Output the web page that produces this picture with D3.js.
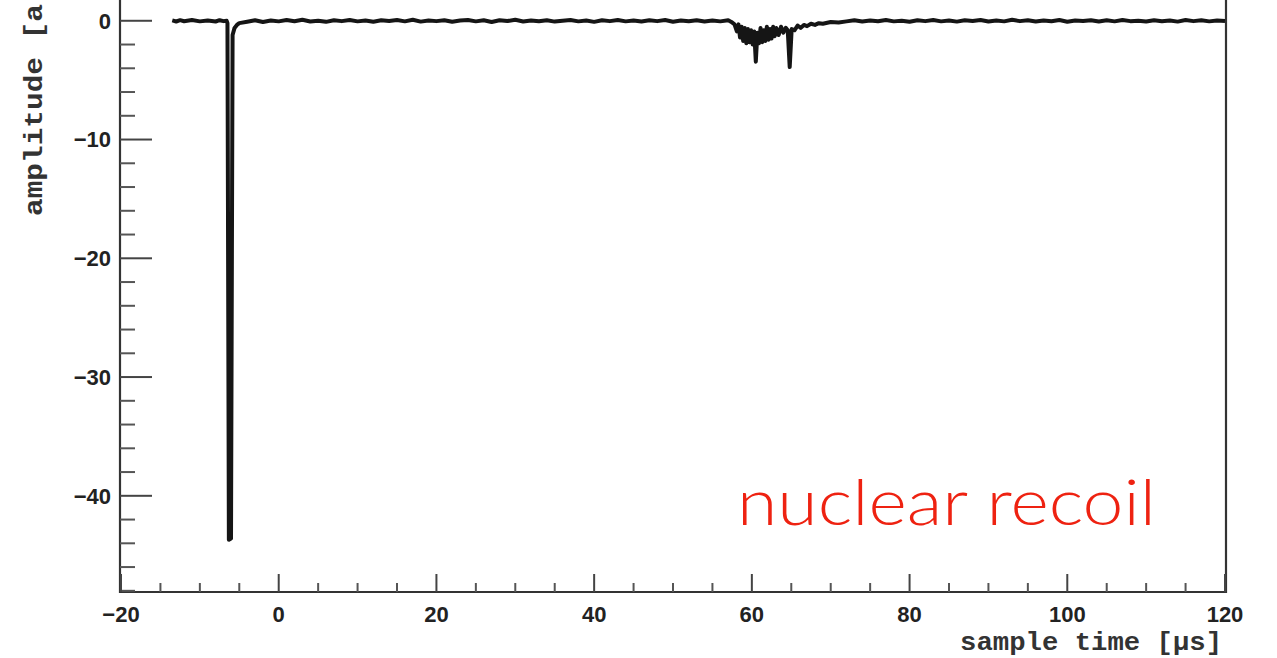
<!DOCTYPE html>
<html>
<head>
<meta charset="utf-8">
<script src="https://cdn.jsdelivr.net/npm/d3@7"></script>
<style>
  html, body { margin: 0; padding: 0; background: #fff; }
  svg { display: block; }
</style>
</head>
<body>
<div id="chart"></div>
<script>
// waveform, sample time in µs, amplitude in a.u.
const preTime  = [-13.5, -13, -12.5, -12, -11, -10, -9, -8, -7.5, -7, -6.6];
const preAmp   = [0.03, -0.06, 0.05, -0.04, 0.06, -0.05, 0.03, -0.06, 0.05, -0.03, 0.0];

const spikeTime = [-6.5, -6.32, -6.05, -5.85, -5.6, -5.3, -5];
const spikeAmp  = [-0.2, -43.7, -43.6, -1.2, -0.6, -0.35, -0.2];

const base1Time = d3.range(-4, 58);   // 1 µs sampling grid
const base1Amp = [
  -0.08, 0.05, -0.1, 0.03, -0.05, 0.06, -0.04, 0.08, -0.06, 0.01,
  -0.09, 0.05, -0.03, 0.07, -0.05, 0.03, -0.08, 0.04, -0.01, 0.06,
  -0.05, 0.09, -0.07, 0.03, -0.03, 0.05, -0.08, 0.02, 0.06, -0.05,
  0.04, -0.1, 0.05, -0.02, 0.08, -0.06, 0.03, -0.04, 0.05, -0.07,
  0.01, 0.06, -0.05, 0.03, -0.09, 0.05, -0.03, 0.07, -0.05, 0.02,
  -0.06, 0.05, -0.03, 0.06, -0.08, 0.03, -0.04, 0.05, -0.06, 0.02,
  -0.05, 0.04
];

const recoilTime = [57.4, 57.8, 58.1, 58.3, 58.5, 58.7, 58.9, 59.1, 59.3, 59.5,
  59.7, 59.9, 60.1, 60.3, 60.5, 60.7, 60.9, 61.1, 61.3, 61.5,
  61.7, 61.9, 62.1, 62.3, 62.5, 62.7, 62.9, 63.1, 63.4, 63.7,
  64.0, 64.3, 64.55, 64.8, 65.05, 65.4, 65.8, 66.2, 66.6, 67,
  67.5, 68, 68.5, 69, 70, 71, 72];
const recoilAmp = [-0.1, -0.3, -0.9, -0.3, -1.4, -0.5, -1.7, -0.6, -1.9, -0.7,
  -1.8, -0.8, -2.0, -0.9, -3.45, -1.0, -1.9, -0.6, -1.8, -0.8,
  -1.7, -0.5, -1.6, -0.7, -1.5, -0.5, -1.3, -0.6, -1.2, -0.5,
  -1.0, -0.6, -0.8, -3.9, -0.7, -0.8, -0.4, -0.6, -0.35, -0.45,
  -0.25, -0.35, -0.2, -0.25, -0.1, -0.15, -0.05];

const base2Time = d3.range(73, 121);
const base2Amp = [
  0.05, -0.06, 0.03, -0.04, 0.07, -0.05, 0.01, -0.08, 0.05, -0.03,
  0.06, -0.05, 0.03, -0.07, 0.04, -0.01, 0.06, -0.06, 0.02, -0.05,
  0.08, -0.03, 0.05, -0.06, 0.03, -0.04, 0.06, -0.08, 0.03, -0.02,
  0.05, -0.06, 0.04, -0.05, 0.07, -0.03, 0.01, -0.06, 0.05, -0.04,
  0.03, -0.07, 0.06, -0.03, 0.04, -0.05, 0.02, -0.01
];

const xTicks = [-20, 0, 20, 40, 60, 80, 100, 120];
const yTicks = [0, -10, -20, -30, -40];

(function() {
  const W = 1277, H = 658;
  const left = 120, right = 1226, bottom = 592;

  const svg = d3.select("#chart").append("svg")
      .attr("width", W)
      .attr("height", H);

  const x = d3.scaleLinear().domain([-20, 120]).range([121, 1225]);
  const y = d3.scaleLinear().domain([-48.1, 1.8]).range([bottom, -0.6]);

  // join the segments into one trace
  const trace = [];
  [[preTime, preAmp], [spikeTime, spikeAmp], [base1Time, base1Amp],
   [recoilTime, recoilAmp], [base2Time, base2Amp]].forEach(([t, a]) => {
    t.forEach((v, i) => trace.push({t: v, a: a[i]}));
  });

  // frame (top edge sits above the visible area)
  svg.append("path")
    .attr("d", `M${left},-20 V${bottom} H${right} V-20`)
    .attr("fill", "none")
    .attr("stroke", "#333")
    .attr("stroke-width", 2.2);

  // y ticks point inward, minor every 2
  const yMinor = d3.range(-48, 1, 2).filter(d => d % 10 !== 0);
  svg.append("g").selectAll("line")
    .data(yTicks).join("line")
      .attr("x1", left).attr("x2", left + 32)
      .attr("y1", d => y(d)).attr("y2", d => y(d))
      .attr("stroke", "#444").attr("stroke-width", 2);
  svg.append("g").selectAll("line")
    .data(yMinor).join("line")
      .attr("x1", left).attr("x2", left + 15)
      .attr("y1", d => y(d)).attr("y2", d => y(d))
      .attr("stroke", "#555").attr("stroke-width", 2);

  // x ticks point up, minor every 5
  const xMinor = d3.range(-15, 120, 5).filter(d => d % 20 !== 0);
  svg.append("g").selectAll("line")
    .data(xTicks).join("line")
      .attr("x1", d => x(d)).attr("x2", d => x(d))
      .attr("y1", bottom).attr("y2", bottom - 18)
      .attr("stroke", "#444").attr("stroke-width", 2);
  svg.append("g").selectAll("line")
    .data(xMinor).join("line")
      .attr("x1", d => x(d)).attr("x2", d => x(d))
      .attr("y1", bottom).attr("y2", bottom - 9)
      .attr("stroke", "#555").attr("stroke-width", 2);

  const fmt = d3.format("d");
  const tickFont = "bold 22px 'Liberation Sans', Arial, sans-serif";

  svg.append("g").selectAll("text")
    .data(yTicks).join("text")
      .attr("x", 111)
      .attr("y", d => y(d))
      .attr("dy", "0.36em")
      .attr("text-anchor", "end")
      .style("font", tickFont)
      .attr("fill", "#222")
      .text(d => fmt(d));

  svg.append("g").selectAll("text")
    .data(xTicks).join("text")
      .attr("x", d => x(d))
      .attr("y", 622)
      .attr("text-anchor", "middle")
      .style("font", tickFont)
      .attr("fill", "#222")
      .text(d => fmt(d));

  // axis titles
  svg.append("text")
    .attr("x", 1222)
    .attr("y", 650)
    .attr("text-anchor", "end")
    .attr("textLength", 262)
    .attr("lengthAdjust", "spacingAndGlyphs")
    .style("font", "bold 26px 'Liberation Mono', 'DejaVu Sans Mono', monospace")
    .attr("fill", "#333")
    .text("sample time [µs]");

  svg.append("text")
    .attr("transform", "translate(42,216) rotate(-90)")
    .attr("text-anchor", "start")
    .attr("textLength", 212)
    .attr("lengthAdjust", "spacingAndGlyphs")
    .style("font", "bold 26px 'Liberation Mono', 'DejaVu Sans Mono', monospace")
    .attr("fill", "#333")
    .text("amplitude [a");

  // the waveform
  svg.append("path")
    .datum(trace)
    .attr("fill", "none")
    .attr("stroke", "#151515")
    .attr("stroke-width", 4)
    .attr("stroke-linejoin", "round")
    .attr("d", d3.line()
      .x(d => x(d.t))
      .y(d => y(d.a)));

  svg.append("text")
    .attr("x", 737)
    .attr("y", 525)
    .attr("textLength", 419)
    .attr("lengthAdjust", "spacingAndGlyphs")
    .style("font", "300 63px Lato, 'Noto Sans', sans-serif")
    .attr("fill", "#ee2211")
    .text("nuclear recoil");
})();
</script>
</body>
</html>
